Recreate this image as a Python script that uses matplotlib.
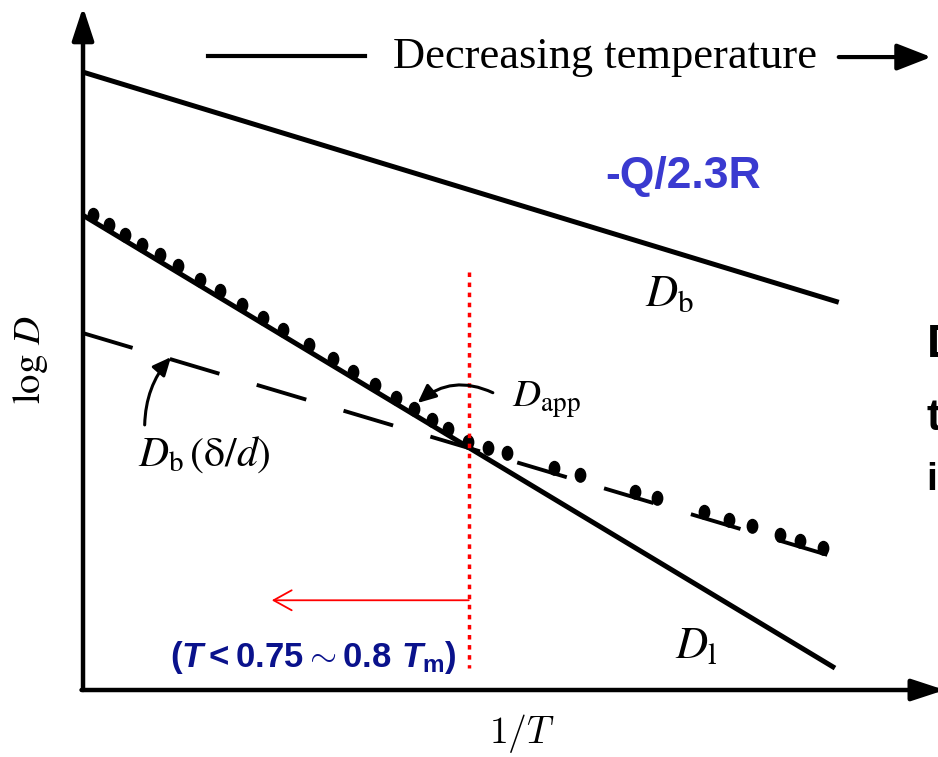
import numpy as np
import matplotlib
matplotlib.use("Agg")
import matplotlib.pyplot as plt
from matplotlib.path import Path
from matplotlib.transforms import Affine2D

plt.rcParams['mathtext.fontset'] = 'stix'
# 'custom' math fonts are only used by the blue T-range label
plt.rcParams['mathtext.rm'] = 'Liberation Sans:bold'
plt.rcParams['mathtext.it'] = 'Liberation Sans:italic:bold'
plt.rcParams['mathtext.bf'] = 'Liberation Sans:bold'

# ---------------------------------------------------------
# Data: 1/T (arbitrary units) vs log D (arbitrary units)
# ---------------------------------------------------------
x_ends = [0.0, 10.0]
x_ends_b = [0.0, 10.05]
logD_b = [9.02, 5.66]     # boundary diffusion D_b
logD_l = [6.93, 0.32]     # lattice diffusion D_l
logD_gb = [5.21, 1.94]    # D_b (delta/d)
x_cross = 5.13            # where D_l meets D_b(delta/d)
red_line_y = [6.10, 0.32]
red_arrow_y = 1.31
red_arrow_x_end = 2.51

# apparent diffusivity D_app (beads)
bead_x = [0.13, 0.35, 0.56, 0.78, 1.02, 1.26, 1.56, 1.82, 2.11, 2.39,
          2.66, 3.00, 3.32, 3.59, 3.88, 4.16, 4.40, 4.64, 4.85,
          5.12, 5.39, 5.64, 6.26, 6.61, 7.34, 7.63, 8.26, 8.59, 8.90,
          9.27, 9.53, 9.84]
bead_y = [6.84, 6.70, 6.56, 6.41, 6.26, 6.10, 5.90, 5.73, 5.54, 5.35,
          5.17, 4.95, 4.74, 4.56, 4.37, 4.18, 4.02, 3.86, 3.72,
          3.54, 3.45, 3.37, 3.16, 3.05, 2.81, 2.72, 2.51, 2.40, 2.30,
          2.18, 2.09, 1.99]

x_axis_end = 11.46
y_axis_end = 9.97

fig = plt.figure(figsize=(9.38, 7.57), dpi=100)
ax = fig.add_axes([0, 0, 1, 1])
ax.set_xlim(-1.104, 11.37)
ax.set_ylim(-0.978, 10.073)
ax.axis('off')

# axes with arrows
ax.annotate('', xy=(0, y_axis_end), xytext=(0, 0),
            arrowprops=dict(arrowstyle='-|>,head_length=0.67,head_width=0.22',
                            mutation_scale=30, lw=3.2, color='black',
                            shrinkA=0, shrinkB=0), annotation_clip=False)
ax.annotate('', xy=(x_axis_end, 0), xytext=(-0.02, 0),
            arrowprops=dict(arrowstyle='-|>,head_length=0.67,head_width=0.22',
                            mutation_scale=30, lw=3.2, color='black',
                            shrinkA=0, shrinkB=0), annotation_clip=False)

# diffusion lines
ax.plot(x_ends_b, logD_b, color='black', lw=3.6, solid_capstyle='butt')
ax.plot(x_ends, logD_gb, color='black', lw=2.8, linestyle=(0, (13.3, 10.0)))
ax.plot(x_ends, logD_l, color='black', lw=3.6, solid_capstyle='butt', zorder=3)

# beads
bead = Affine2D().scale(0.42, 0.55).translate(0, 0.5).transform_path(Path.unit_circle())
ax.plot(bead_x, bead_y, linestyle='none', marker=bead, markersize=18.7,
        color='black', zorder=4)

# red marker of the crossover
ax.plot([x_cross, x_cross], red_line_y, color='red', lw=2.5,
        linestyle=(0, (1.3, 1.6)), zorder=5)
ax.annotate('', xy=(red_arrow_x_end, red_arrow_y), xytext=(x_cross, red_arrow_y),
            arrowprops=dict(arrowstyle='->,head_length=0.65,head_width=0.36',
                            mutation_scale=20, lw=1.3, color='red',
                            shrinkA=0, shrinkB=0))

# top annotation
ax.plot([1.66, 3.75], [9.26, 9.26], color='black', lw=3.0)
ax.text(4.12, 9.08, 'Decreasing temperature', family='Liberation Serif',
        fontsize=32, ha='left', va='baseline')
ax.annotate('', xy=(11.28, 9.24), xytext=(10.05, 9.24),
            arrowprops=dict(arrowstyle='-|>,head_length=1.05,head_width=0.41',
                            mutation_scale=20, lw=3.0, color='black',
                            shrinkA=0, shrinkB=0))

# labels
ax.text(6.95, 7.33, '-Q/2.3R', family='Liberation Sans', weight='bold',
        fontsize=32, color='#3a3ad0', ha='left', va='baseline')
ax.text(7.47, 5.61, r'$D_{\mathrm{b}}$', fontsize=32, ha='left', va='baseline')
ax.text(5.70, 4.13, r'$D_{\mathrm{app}}$', fontsize=28, ha='left', va='baseline')
ax.text(0.73, 3.28, r'$D_{\mathrm{b}}\,(\mathrm{\delta}/d)$', fontsize=30,
        ha='left', va='baseline')
ax.text(7.87, 0.47, r'$D_{\mathrm{l}}$', fontsize=32, ha='left', va='baseline')
ax.text(-0.705, 4.82, r'$\log\,D$', fontsize=28, rotation=90,
        ha='center', va='center')
ax.text(5.84, -0.78, r'$1/T$', fontsize=27, math_fontfamily='cm',
        ha='center', va='baseline')
ax.text(1.16, 0.34, r'$(T<0.75{\sim}0.8\ T_{\mathrm{m}})$', fontsize=25,
        math_fontfamily='custom', color='#0a128c', ha='left', va='baseline')

# curved pointers
ax.annotate('', xy=(1.17, 4.86), xytext=(0.82, 3.87),
            arrowprops=dict(arrowstyle='-|>,head_length=0.55,head_width=0.25',
                            mutation_scale=20, lw=2.2, color='black',
                            connectionstyle='arc3,rad=-0.18',
                            shrinkA=0, shrinkB=0))
ax.annotate('', xy=(4.45, 4.19), xytext=(5.45, 4.34),
            arrowprops=dict(arrowstyle='-|>,head_length=0.55,head_width=0.25',
                            mutation_scale=20, lw=2.2, color='black',
                            connectionstyle='arc3,rad=0.32',
                            shrinkA=0, shrinkB=0), zorder=6)

# text cut off at the right edge of the slide
ax.text(11.22, 4.86, 'D', family='Liberation Sans', weight='bold',
        fontsize=34, ha='left', va='baseline')
ax.text(11.22, 3.80, 't', family='Liberation Sans', weight='bold',
        fontsize=32, ha='left', va='baseline')
ax.text(11.22, 2.92, 'i', family='Liberation Sans', weight='bold',
        fontsize=28, ha='left', va='baseline')

fig.savefig('out.png', dpi=100, facecolor='white')
print("Saved: out.png")
